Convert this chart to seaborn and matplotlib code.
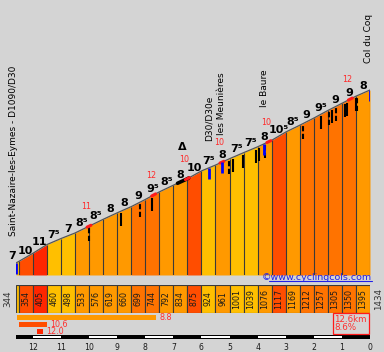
import numpy as np
import matplotlib
matplotlib.use("Agg")
import matplotlib.pyplot as plt
import seaborn as sns
from matplotlib.lines import Line2D

# ----------------------------
# DANE
# ----------------------------
seg_km = [0.1] + [0.5] * 25
altitudes = [344, 354, 405, 460, 498, 533, 576, 619, 660, 699, 744, 792, 834, 875,
             924, 961, 1001, 1039, 1076, 1117, 1169, 1212, 1257, 1305, 1350, 1395, 1434]
gradients = [7, 10, 11, 7.5, 7, 8.5, 8.5, 8, 8, 9, 9.5, 8.5, 8, 10, 7.5, 8, 7.5, 7.5, 8,
             10.5, 8.5, 9, 9.5, 9, 9, 8]

road_names = ["Saint-Nazaire-les-Eymes - D1090/D30", "D30/D30e", "les Meunières", "le Baure", "Col du Coq"]
road_km = [0.0, 6.87, 7.33, 8.83, 12.6]

red_km = [2.6, 4.9, 6.1, 7.33, 9.0, 11.9]
red_max = [11, 12, 10, 10, 10, 12]

black_km_solid = [3.74, 4.84, 7.72, 8.08, 8.54, 8.65, 10.85, 11.25, 11.71, 11.78, 12.10]
black_km_dashed = [2.6, 4.41, 7.58, 8.86, 10.21, 11.14, 11.39, 12.14]
tunnel_km = [5.75, 6.15]
summit_sign_km = 6.0

best_start = [0.03, 0.1, 0.75]
best_len = [4.97, 1.0, 0.2]
best_grad = [8.8, 10.6, 12.0]

total_km = 12.6
avg_grad = 8.6

# ----------------------------
# USTAWIENIA
# ----------------------------
sns.set_style("white")
plt.rcParams['font.family'] = ['DejaVu Sans']
W, H = 384, 352
BG = '#d4d4d4'
EDGE = '#3a3a3a'


def px_rect(x0, y0, x1, y1):
    return [x0 / W, 1 - y1 / H, (x1 - x0) / W, (y1 - y0) / H]


def grad_color(g):
    if g < 8:
        return '#ffbf00'
    if g < 9:
        return '#ff9900'
    if g < 10:
        return '#ff7300'
    if g < 11:
        return '#ff4d00'
    return '#ff2600'


def grad_label(g):
    s = str(int(g))
    if g % 1:
        s += '\u2075'
    return s


dist = np.concatenate([[0], np.cumsum(seg_km)])
alt = np.array(altitudes, dtype=float)
M_PER_PX = 1090 / 173.0
y_base = 344 - 12 * M_PER_PX
y_top = 344 + 263 * M_PER_PX


def alt_at(k):
    return np.interp(k, dist, alt)


fig = plt.figure(figsize=(W / 100, H / 100), dpi=100, facecolor=BG)

# ----------------------------
# PROFIL
# ----------------------------
ax = fig.add_axes(px_rect(16, 0, 370, 275))
ax.set_xlim(0, total_km)
ax.set_ylim(y_base, y_top)
ax.axis('off')

for i, g in enumerate(gradients):
    ax.fill_between(dist[i:i + 2], alt[i:i + 2], y_base, color=grad_color(g), lw=0)
ax.vlines(dist[1:], y_base, alt[1:], color=EDGE, lw=0.8)
sns.lineplot(x=dist, y=alt, ax=ax, color='#555555', lw=0.9, legend=False)

# znaczniki czarne (zakręty)
for k in black_km_solid:
    a = alt_at(k)
    ax.vlines(k, a - 15 * M_PER_PX, a - 2 * M_PER_PX, color='black', lw=1.5)
for k in black_km_dashed:
    a = alt_at(k)
    ax.vlines(k, a - 15 * M_PER_PX, a - 2 * M_PER_PX, color='black', lw=1.5,
              linestyles=(0, (2.5, 1.2)))

# tunel
tk = np.linspace(tunnel_km[0], tunnel_km[1], 10)
ax.plot(tk, alt_at(tk), color='black', lw=2.6, solid_capstyle='round')

# max nachylenia (czerwone)
for k, v in zip(red_km, red_max):
    rk = np.linspace(k - 0.07, k + 0.07, 5)
    ax.plot(rk, alt_at(rk), color='#ff1a1a', lw=2.2)
    ax.annotate(str(v), (k, alt_at(k)), xytext=(-2, 14), textcoords='offset points',
                ha='center', va='center', fontsize=5.8, color='#ff2a2a')

# niebieskie znaczniki miejscowości
for k in road_km:
    a = alt_at(k)
    ax.vlines(k, a - 11 * M_PER_PX, a, color='#0000ff', lw=2)

# etykiety nachylenia
for i, g in enumerate(gradients):
    mid = (dist[i] + dist[i + 1]) / 2
    amid = (alt[i] + alt[i + 1]) / 2
    dx = -4 if i == 0 else 0
    ax.annotate(grad_label(g), (mid, amid), xytext=(dx, 2.6), textcoords='offset points',
                ha='center', va='baseline', fontsize=8, fontweight='bold', color='black')

# nazwy miejsc
name_offsets = {"le Baure": 26.5}
for name, k in zip(road_names, road_km):
    dx = 0
    if k == 0:
        dx = -1.5
    elif k == total_km:
        dx = -1.2
    ax.annotate(name, (k, alt_at(k)), xytext=(dx, name_offsets.get(name, 19.5)),
                textcoords='offset points', rotation=90, ha='center', va='bottom',
                fontsize=6.5, color='black', annotation_clip=False)

ax.annotate('\u0394', (summit_sign_km, alt_at(summit_sign_km)), xytext=(-1.5, 24),
            textcoords='offset points', ha='center', va='center', fontsize=8,
            fontweight='bold', color='black')

# ----------------------------
# TABELA WYSOKOSCI
# ----------------------------
axt = fig.add_axes(px_rect(16, 285, 370, 313))
axt.set_xlim(0, total_km)
axt.set_ylim(0, 1)
axt.axis('off')
axt.bar(dist[:-1], 1, width=seg_km, align='edge', color=[grad_color(g) for g in gradients],
        edgecolor=EDGE, lw=0.8)
for i in range(1, len(gradients)):
    mid = (dist[i] + dist[i + 1]) / 2
    axt.text(mid, 0.5, str(altitudes[i]), rotation=90, ha='center', va='center',
             fontsize=5.7, color='#1a1a1a')
axt.annotate(str(altitudes[0]), (0, 0.5), xytext=(-6, 0), textcoords='offset points',
             rotation=90, ha='center', va='center', fontsize=6.3, color='#333333',
             annotation_clip=False)
axt.annotate(str(altitudes[-1]), (total_km, 0.5), xytext=(6, 0), textcoords='offset points',
             rotation=90, ha='center', va='center', fontsize=6.3, color='#333333',
             annotation_clip=False)

# ----------------------------
# NAJTRUDNIEJSZE ODCINKI
# ----------------------------
axb = fig.add_axes(px_rect(16, 314, 370, 335))
axb.set_xlim(0, total_km)
axb.set_ylim(2.5, -0.5)
axb.axis('off')
rows = np.arange(len(best_grad))
axb.barh(rows, best_len, left=best_start, height=0.84,
         color=[grad_color(g) for g in best_grad], lw=0)
for r, s, l, g in zip(rows, best_start, best_len, best_grad):
    axb.annotate(f"{g:.1f}", (s + l, r), xytext=(2.2, 0), textcoords='offset points',
                 ha='left', va='center', fontsize=5.8, color='#ff2f2f')

fig.text(334.5 / W, 1 - 323.5 / H, f"{total_km}km\n{avg_grad}%", ha='left', va='center',
         fontsize=6.3, color='#ff2f2f', linespacing=1.0,
         bbox=dict(boxstyle='square,pad=0.2', fc='none', ec='#ff1a1a', lw=0.9))

# ----------------------------
# SKALA KM
# ----------------------------
axs = fig.add_axes(px_rect(16, 335, 370, 339.3))
axs.set_xlim(total_km, 0)
axs.set_ylim(0, 1)
axs.set_facecolor('none')
axs.barh(0.5, total_km, left=0, height=1, color='black', lw=0)
axs.barh(0.45, 1, left=[11, 9, 7, 5, 3, 1], height=0.45, color='white', lw=0)
axs.set_xticks(range(0, 13))
axs.set_xticklabels([str(k) for k in range(0, 13)])
axs.set_yticks([])
axs.tick_params(axis='x', length=0, labelsize=5.6, pad=2.5, colors='#1a1a1a')
sns.despine(ax=axs, left=True, bottom=True)

# ----------------------------
# COPYRIGHT
# ----------------------------
t = fig.text(372 / W, 1 - 277 / H, '\u00a9www.cyclingcols.com', ha='right', va='center',
             fontsize=6.8, color='#2020e8')
fig.canvas.draw()
bb = t.get_window_extent()
fig.add_artist(Line2D([(bb.x0 + 7) / W, bb.x1 / W], [(bb.y0 + 0.5) / H] * 2,
                      transform=fig.transFigure, color='#2020e8', lw=0.8))

fig.savefig("out.png", dpi=100, facecolor=BG)
